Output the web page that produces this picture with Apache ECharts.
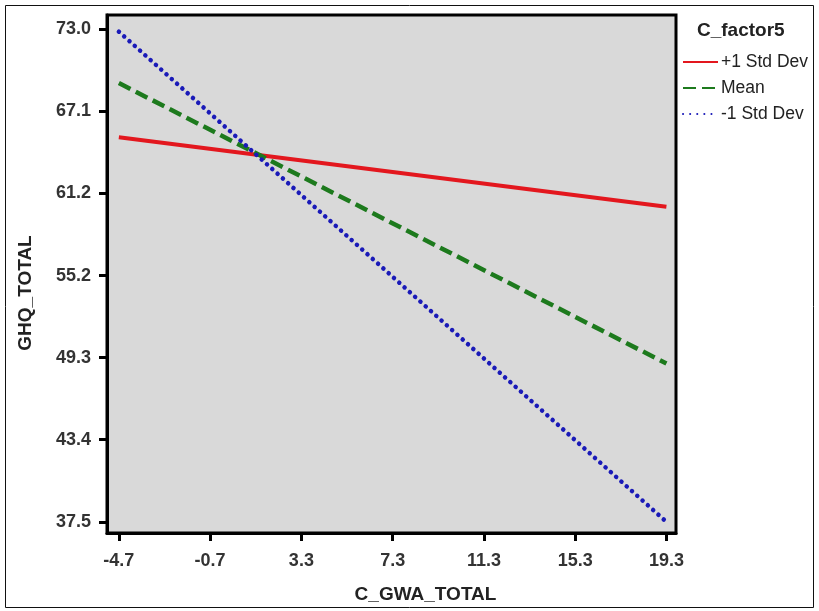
<!DOCTYPE html>
<html>
<head>
<meta charset="utf-8">
<script src="https://cdn.jsdelivr.net/npm/echarts@6/dist/echarts.min.js"></script>
<style>html,body{margin:0;padding:0;background:#fff;}#c{width:819px;height:611px;}</style>
</head>
<body>
<div id="c"></div>
<script>
// Data
const xValues = [-4.7, 19.3];
const plus1SD = [65.2, 60.2];
const meanVals = [69.1, 48.9];
const minus1SD = [72.8, 37.5];
const seriesNames = ['+1 Std Dev', 'Mean', '-1 Std Dev'];
const xTicks = [-4.7, -0.7, 3.3, 7.3, 11.3, 15.3, 19.3];
const yTicks = [37.5, 43.4, 49.3, 55.2, 61.2, 67.1, 73.0];

const FONT = '"Liberation Sans", Arial, sans-serif';
const pair = (xs, ys) => xs.map((x, i) => [x, ys[i]]);

// main plot geometry
const G = {left: 107, top: 15, right: 143, bottom: 78, w: 819, h: 611};
const X_MIN = -5.22, X_MAX = 19.72, Y_MIN = 36.7, Y_MAX = 74.0;
const plotW = G.w - G.left - G.right, plotH = G.h - G.top - G.bottom;
const xPix = v => G.left + (v - X_MIN) / (X_MAX - X_MIN) * plotW;
const yPix = v => G.top + (Y_MAX - v) / (Y_MAX - Y_MIN) * plotH;
const xT0 = xTicks[0], xT1 = xTicks[xTicks.length - 1];
const yT0 = yTicks[0], yT1 = yTicks[yTicks.length - 1];

const chart = echarts.init(document.getElementById('c'), null, {renderer: 'canvas'});
chart.setOption({
  animation: false,
  backgroundColor: '#ffffff',
  title: {
    text: 'C_factor5', left: 697, top: 21, padding: 0,
    textStyle: {fontFamily: FONT, fontSize: 19, fontWeight: 'bold', color: '#222'}
  },
  legend: {
    orient: 'vertical', left: 682, top: 53, padding: 0,
    itemWidth: 35, itemHeight: 18, itemGap: 8,
    itemStyle: {opacity: 0},
    textStyle: {fontFamily: FONT, fontSize: 17.5, color: '#222', padding: [0,0,0,-2]},
    data: seriesNames
  },
  graphic: [{
    type: 'rect', shape: {x: 5.5, y: 5.5, width: 808, height: 602},
    style: {fill: 'none', stroke: '#111', lineWidth: 1}, silent: true
  }],
  grid: [
    {left: G.left, top: G.top, right: G.right, bottom: G.bottom,
     show: true, backgroundColor: '#d9d9d9', borderColor: '#000', borderWidth: 3},
    // tick-only grid for x ticks: spans exactly first..last x tick
    {left: xPix(xT0), right: G.w - xPix(xT1), top: G.top, bottom: G.bottom, show: false},
    // tick-only grid for y ticks: spans exactly first..last y tick
    {left: G.left, right: G.right, top: yPix(yT1), bottom: G.h - yPix(yT0), show: false}
  ],
  xAxis: [{
    gridIndex: 0, type: 'value', min: X_MIN, max: X_MAX,
    name: 'C_GWA_TOTAL', nameLocation: 'middle', nameGap: 52,
    nameTextStyle: {fontFamily: FONT, fontSize: 19, fontWeight: 'bold', color: '#222', padding: [0,0,0,68]},
    axisLine: {show: true, onZero: false, lineStyle: {color: '#000', width: 3}},
    splitLine: {show: false},
    axisTick: {show: false},
    axisLabel: {
      customValues: xTicks, margin: 19, color: '#333',
      fontFamily: FONT, fontSize: 18, fontWeight: 'bold',
      formatter: v => v.toFixed(1)
    }
  }, {
    gridIndex: 1, type: 'value', position: 'bottom', min: xT0, max: xT1,
    interval: (xT1 - xT0) / (xTicks.length - 1),
    axisLine: {show: false, onZero: false},
    splitLine: {show: false},
    axisLabel: {show: false},
    axisTick: {show: true, inside: false, length: 8, lineStyle: {color: '#000', width: 3}}
  }, {
    gridIndex: 2, type: 'value', show: false, min: 0, max: 1
  }],
  yAxis: [{
    gridIndex: 0, type: 'value', min: Y_MIN, max: Y_MAX,
    name: 'GHQ_TOTAL', nameLocation: 'middle', nameGap: 72,
    nameTextStyle: {fontFamily: FONT, fontSize: 19, fontWeight: 'bold', color: '#222', padding: [0,38,0,0]},
    axisLine: {show: true, onZero: false, lineStyle: {color: '#000', width: 3}},
    splitLine: {show: false},
    axisTick: {show: false},
    axisLabel: {
      customValues: yTicks, margin: 16, color: '#333',
      fontFamily: FONT, fontSize: 18, fontWeight: 'bold',
      formatter: v => v.toFixed(1)
    }
  }, {
    gridIndex: 1, type: 'value', show: false, min: 0, max: 1
  }, {
    gridIndex: 2, type: 'value', position: 'left', min: yT0, max: yT1,
    interval: (yT1 - yT0) / (yTicks.length - 1),
    axisLine: {show: false, onZero: false},
    splitLine: {show: false},
    axisLabel: {show: false},
    axisTick: {show: true, inside: false, length: 8, lineStyle: {color: '#000', width: 3}}
  }],
  series: [
    {
      name: seriesNames[0], type: 'line', data: pair(xValues, plus1SD), xAxisIndex: 0, yAxisIndex: 0,
      symbol: 'none', color: '#e3171e',
      lineStyle: {color: '#e3171e', width: 4, type: 'solid'}
    },
    {
      name: seriesNames[1], type: 'line', data: pair(xValues, meanVals), xAxisIndex: 0, yAxisIndex: 0,
      symbol: 'none', color: '#1d7a1d',
      lineStyle: {color: '#1d7a1d', width: 4.5, type: [13, 6]}
    },
    {
      name: seriesNames[2], type: 'line', data: pair(xValues, minus1SD), xAxisIndex: 0, yAxisIndex: 0,
      symbol: 'none', color: '#1a1ab8',
      lineStyle: {color: '#1a1ab8', width: 4.5, type: [0.1, 7], cap: 'round'}
    }
  ]
});
</script>
</body>
</html>
